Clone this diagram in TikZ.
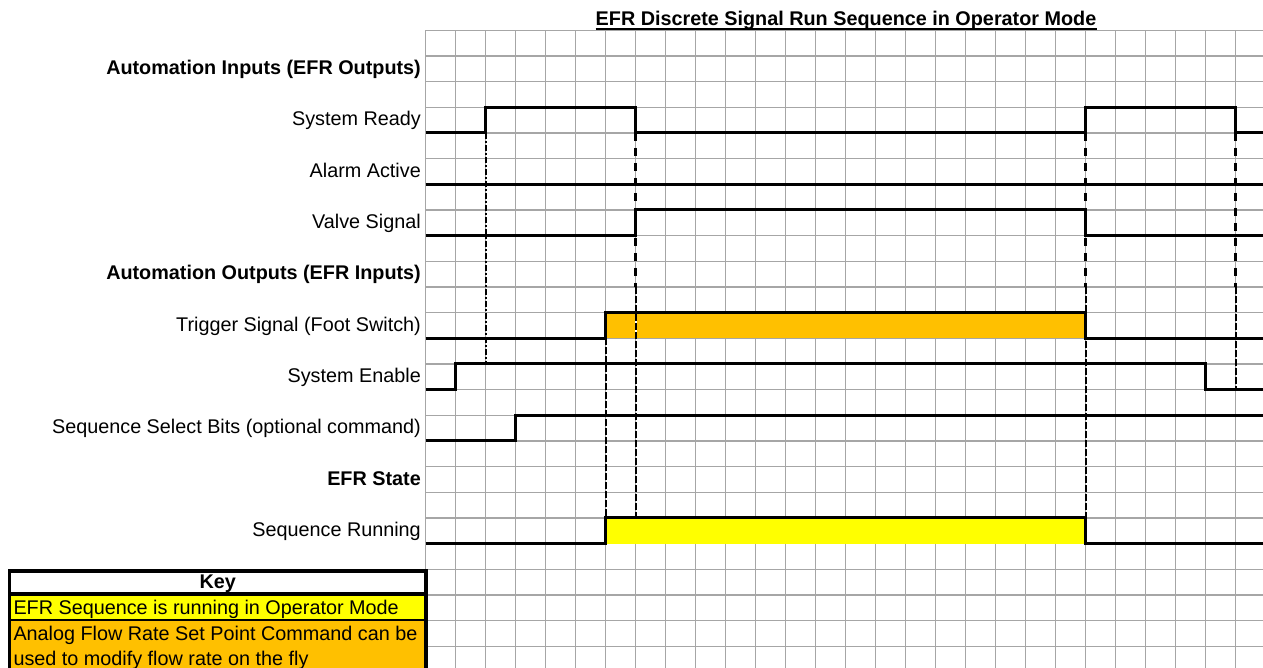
\documentclass[tikz,border=0pt]{standalone}
\usepackage{fontspec}
\setmainfont{Liberation Sans}
\definecolor{gridgray}{RGB}{166,166,166}
\definecolor{keyyellow}{RGB}{255,255,0}
\definecolor{keyorange}{RGB}{255,192,0}
\newcommand\gx[1]{425.7+30*#1}
\newcommand\gy[1]{30.2+25.67*#1}
\begin{document}
\begin{tikzpicture}[x=1pt,y=-1pt,
  gridline/.style={draw=gridgray,line width=1.3pt},
  sig/.style={draw=black,line width=3pt,line join=miter},
  guidemed/.style={draw=black,line width=2.8pt,dash pattern=on 8pt off 7pt},
  guidethin/.style={draw=black,line width=2pt,dash pattern=on 6.7pt off 2.3pt},
  guidedot/.style={draw=black,line width=1.8pt,dash pattern=on 6pt off 2pt on 2pt off 2pt},
  lbl/.style={anchor=base east,inner sep=0pt,font=\fontsize{19.8}{24}\selectfont},
  hdr/.style={anchor=base east,inner sep=0pt,font=\fontsize{19.8}{24}\selectfont\bfseries},
  keytxt/.style={anchor=base west,inner sep=0pt,font=\fontsize{19.8}{24}\selectfont},
  keyframe/.style={draw=black,line width=3.5pt},
  ]
\useasboundingbox (0,0) rectangle (1263,667);
\begin{scope}
\clip (0,0) rectangle (1263,667);
% grid
\foreach \k in {0,...,27} \draw[gridline] ({\gx{\k}},{\gy{0}}) -- ({\gx{\k}},680);
\foreach \k in {0,...,25} \draw[gridline] ({\gx{0}},{\gy{\k}}) -- (1270,{\gy{\k}});
% fills
\fill[keyorange] ({\gx{6}},{\gy{11}}) rectangle ({\gx{22}},{\gy{12}});
\fill[keyyellow] ({\gx{6}},{\gy{19}}) rectangle ({\gx{22}},{\gy{20}});
% guide lines
\draw[guidedot] ({\gx{2}},{\gy{4}}) -- ({\gx{2}},{\gy{13}});
\draw[guidemed] ({\gx{7}},{\gy{4}}) -- ({\gx{7}},{\gy{10}});
\draw[white,line width=2pt] ({\gx{7}},{\gy{11}}) -- ({\gx{7}},{\gy{12}});
\draw[guidethin] ({\gx{7}},{\gy{10}}) -- ({\gx{7}},{\gy{19}});
\draw[guidethin] ({\gx{6}},{\gy{12}}) -- ({\gx{6}},{\gy{19}});
\draw[guidemed] ({\gx{22}},{\gy{4}}) -- ({\gx{22}},{\gy{10}});
\draw[guidethin] ({\gx{22}},{\gy{10}}) -- ({\gx{22}},{\gy{19}});
\draw[guidemed] ({\gx{27}},{\gy{4}}) -- ({\gx{27}},{\gy{10}});
\draw[guidethin] ({\gx{27}},{\gy{10}}) -- ({\gx{27}},{\gy{14}});
% signals
\draw[sig] ({\gx{0}},{\gy{4}}) -- ({\gx{2}},{\gy{4}}) -- ({\gx{2}},{\gy{3}}) -- ({\gx{7}},{\gy{3}}) -- ({\gx{7}},{\gy{4}}) -- ({\gx{22}},{\gy{4}}) -- ({\gx{22}},{\gy{3}}) -- ({\gx{27}},{\gy{3}}) -- ({\gx{27}},{\gy{4}}) -- (1270,{\gy{4}});
\draw[sig] ({\gx{0}},{\gy{6}}) -- (1270,{\gy{6}});
\draw[sig] ({\gx{0}},{\gy{8}}) -- ({\gx{7}},{\gy{8}}) -- ({\gx{7}},{\gy{7}}) -- ({\gx{22}},{\gy{7}}) -- ({\gx{22}},{\gy{8}}) -- (1270,{\gy{8}});
\draw[sig] ({\gx{0}},{\gy{12}}) -- ({\gx{6}},{\gy{12}}) -- ({\gx{6}},{\gy{11}}) -- ({\gx{22}},{\gy{11}}) -- ({\gx{22}},{\gy{12}}) -- (1270,{\gy{12}});
\draw[sig] ({\gx{0}},{\gy{14}}) -- ({\gx{1}},{\gy{14}}) -- ({\gx{1}},{\gy{13}}) -- ({\gx{26}},{\gy{13}}) -- ({\gx{26}},{\gy{14}}) -- (1270,{\gy{14}});
\draw[sig] ({\gx{0}},{\gy{16}}) -- ({\gx{3}},{\gy{16}}) -- ({\gx{3}},{\gy{15}}) -- (1270,{\gy{15}});
\draw[sig] ({\gx{0}},{\gy{20}}) -- ({\gx{6}},{\gy{20}}) -- ({\gx{6}},{\gy{19}}) -- ({\gx{22}},{\gy{19}}) -- ({\gx{22}},{\gy{20}}) -- (1270,{\gy{20}});
% key
\fill[white] (9.5,571) rectangle (426,594);
\fill[keyyellow] (9.5,594) rectangle (426,620.3);
\fill[keyorange] (9.5,620.3) rectangle (426,680);
\draw[black,line width=1.7pt] (9.5,620.3) -- (426,620.3);
\draw[keyframe] (9.5,594) -- (426,594);
\draw[keyframe] (9.5,680) -- (9.5,571) -- (426,571) -- (426,680);
\end{scope}
% title
\node[anchor=base,inner sep=0pt,font=\fontsize{19.8}{24}\selectfont\bfseries] (title) at (846,25) {EFR Discrete Signal Run Sequence in Operator Mode};
\draw[line width=1.8pt] ([yshift=-3.6pt]title.base west) -- ([yshift=-3.6pt]title.base east);
% labels
\node[hdr] (hin) at (421,{\gy{2}-7}) {Automation Inputs (EFR Outputs)};
\node[lbl] (lready) at (421,{\gy{4}-7}) {System Ready};
\node[lbl] (lalarm) at (421,{\gy{6}-7}) {Alarm Active};
\node[lbl] (lvalve) at (421,{\gy{8}-7}) {Valve Signal};
\node[hdr] (hout) at (421,{\gy{10}-7}) {Automation Outputs (EFR Inputs)};
\node[lbl] (ltrig) at (421,{\gy{12}-7}) {Trigger Signal (Foot Switch)};
\node[lbl] (lenable) at (421,{\gy{14}-7}) {System Enable};
\node[lbl] (lselect) at (421,{\gy{16}-7}) {Sequence Select Bits (optional command)};
\node[hdr] (hstate) at (421,{\gy{18}-7}) {EFR State};
\node[lbl] (lrun) at (421,{\gy{20}-7}) {Sequence Running};
% key texts
\node[anchor=base,inner sep=0pt,font=\fontsize{19.8}{24}\selectfont\bfseries] (keyhead) at (217.7,588.3) {Key};
\node[keytxt] (keyrun) at (13.3,614) {EFR Sequence is running in Operator Mode};
\node[keytxt] (keyflow1) at (13.3,640) {Analog Flow Rate Set Point Command can be};
\node[keytxt] (keyflow2) at (13.3,665.5) {used to modify flow rate on the fly};
\end{tikzpicture}
\end{document}
